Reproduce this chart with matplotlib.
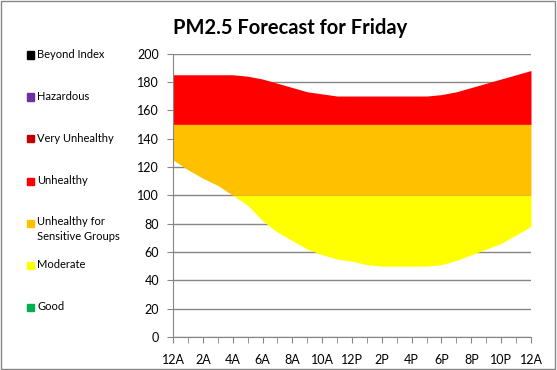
import matplotlib
matplotlib.use('Agg')
import matplotlib.pyplot as plt
from matplotlib.patches import Rectangle
import numpy as np

plt.rcParams['font.family'] = ['Lato', 'DejaVu Sans']

# hourly forecast range, 12A Friday to 12A Saturday
hours = list(range(25))
low = [125, 118, 112, 107, 100, 93, 82, 74, 68, 62, 58, 55, 53.5, 51,
       50, 50, 50, 50, 51, 54, 58, 62, 66, 72, 78]
high = [185, 185, 185, 185, 185, 184, 182, 179, 176, 173, 171.5, 170, 170, 170,
        170, 170, 170, 170, 171, 173, 176, 179, 182, 185, 188]
tick_labels = ['12A', '2A', '4A', '6A', '8A', '10A', '12P', '2P', '4P', '6P',
               '8P', '10P', '12A']

# AQI categories (PM2.5 breakpoints used for the bands)
cat_names = ['Beyond Index', 'Hazardous', 'Very Unhealthy', 'Unhealthy',
             'Unhealthy for\nSensitive Groups', 'Moderate', 'Good']
cat_colors = ['#000000', '#7030A0', '#C00000', '#FF0000',
              '#FFC000', '#FFFF00', '#00B050']
band_lo = [0, 50, 100, 150]
band_hi = [50, 100, 150, 200]
band_colors = ['#00B050', '#FFFF00', '#FFC000', '#FF0000']

fig = plt.figure(figsize=(5.57, 3.7), dpi=100)
ax = fig.add_axes([0.3106, 0.0892, 0.6427, 0.7662])

x = np.array(hours)
lo = np.array(low)
hi = np.array(high)
for b0, b1, c in zip(band_lo, band_hi, band_colors):
    y0 = np.clip(lo, b0, b1)
    y1 = np.clip(hi, b0, b1)
    ax.fill_between(x, y0, y1, where=y1 > y0, color=c, lw=0, zorder=2,
                    interpolate=True)

ax.set_xlim(0, 24)
ax.set_ylim(0, 200)
ax.set_yticks(range(0, 201, 20))
ax.set_xticks(range(0, 25, 2))
ax.set_xticks(range(0, 25), minor=True)
ax.set_xticklabels(tick_labels)
ax.grid(axis='y', color='#868686', lw=1, zorder=1)
ax.set_axisbelow(True)
for s in ['top', 'right']:
    ax.spines[s].set_visible(False)
for s in ['left', 'bottom']:
    ax.spines[s].set_color('#868686')
ax.tick_params(axis='both', which='both', direction='out', length=4,
               color='#868686', labelsize=9, colors='black')
ax.tick_params(axis='x', pad=8)
ax.tick_params(axis='y', pad=6)

fig.text(0.52, 0.925, 'PM2.5 Forecast for Friday', ha='center', va='center',
         fontsize=14.5, fontweight='bold')

# left-hand legend
for i, (name, c) in enumerate(zip(cat_names, cat_colors)):
    yp = 1 - (55 + 42 * i) / 370
    fig.patches.append(Rectangle((27 / 557, yp - 3.5 / 370), 7 / 557, 7 / 370,
                                 transform=fig.transFigure, color=c))
    if '\n' in name:
        fig.text(37 / 557, yp + 7 / 370, name, ha='left', va='top',
                 fontsize=8, linespacing=1.5)
    else:
        fig.text(37 / 557, yp, name, ha='left', va='center', fontsize=8)

fig.patches.append(Rectangle((0.002, 0.003), 0.995, 0.993, transform=fig.transFigure,
                             fill=False, ec='#868686', lw=1))

fig.savefig('out.png', dpi=100)
